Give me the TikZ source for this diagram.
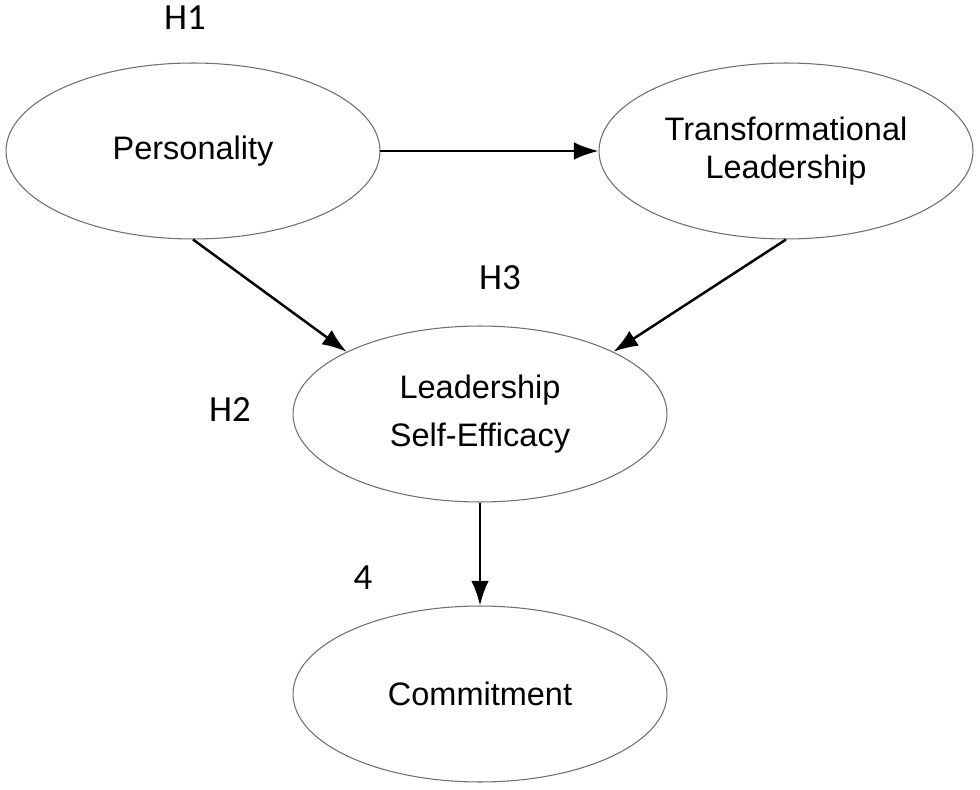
\documentclass[tikz,border=0pt]{standalone}
\usepackage{fontspec}
\setmainfont{Liberation Sans}
\newfontfamily\hfont{Carlito}
\usetikzlibrary{shapes.geometric,arrows.meta}

\definecolor{rimgray}{RGB}{110,110,110}

\begin{document}
\begin{tikzpicture}[x=0.02cm, y=-0.02cm,
		construct/.style={draw=rimgray, line width=0.6pt, ellipse, minimum width=7.48cm, minimum height=3.52cm, inner sep=0pt, align=center, font=\fontsize{18.5}{21.5}\selectfont},
		hyp/.style={font=\hfont\fontsize{21}{24}\selectfont},
		path/.style={-{Latex[length=14pt,width=10pt]}, line width=1.4pt}]
			\useasboundingbox (0,0) rectangle (980,790);
			% Constructs
			\node[construct] (Pers) at (193,151) {Personality};
			\node[construct] (TL) at (786,151) {Transformational\\Leadership};
			\node[construct, font=\fontsize{18.5}{27}\selectfont] (LSE) at (480,414) {Leadership\\Self-Efficacy};
			\node[construct] (Comm) at (480,694) {Commitment};
			
			% Hypothesis labels
			\node[hyp] (H1) at (185,18) {H1};
			\node[hyp] (H3) at (500,278) {H3};
			\node[hyp] (H2) at (230,410) {H2};
			\node[hyp] (H4) at (363,578) {4};
			
			% Paths
			\draw[path] (Pers) -- (TL); \draw[path] (Pers.south) -- (LSE.155);
			\draw[path] (TL.south) -- (LSE.25); \draw[path] (LSE) -- (Comm);
		\end{tikzpicture}
\end{document}
